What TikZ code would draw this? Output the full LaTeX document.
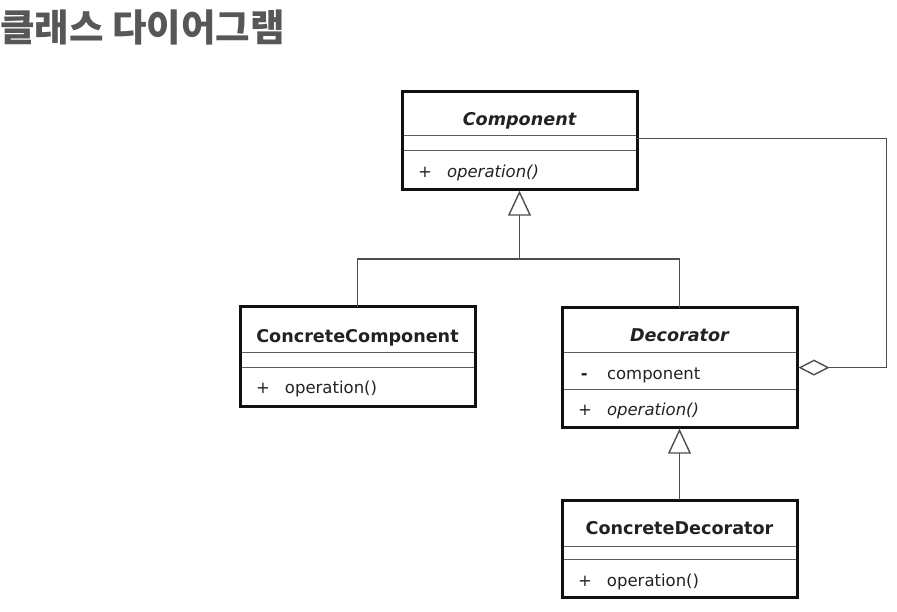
\documentclass[tikz,border=0pt]{standalone}
\usepackage{fontspec}
\usepackage{xcolor}
\usepackage{tikz}
\usetikzlibrary{positioning,arrows.meta,shapes.multipart}
\newfontfamily\umlfont{DejaVu Sans}
\newfontfamily\krfont{Noto Sans CJK KR}
\definecolor{umlEdge}{HTML}{111111}
\definecolor{umlRule}{HTML}{5C5C5C}
\definecolor{umlInk}{HTML}{222222}
\definecolor{umlLink}{HTML}{4E4E4E}
\definecolor{umlTitle}{HTML}{575757}
\tikzset{
  umlclass/.style={rectangle split,rectangle split parts=3,draw=umlRule,line width=1.2pt,
    inner sep=0pt,outer sep=0pt,text=umlInk,font=\umlfont\fontsize{16.5pt}{20pt}\selectfont},
  umlframe/.style={draw=umlEdge,line width=3pt},
  umllink/.style={draw=umlLink,line width=1.4pt},
  umlinherit/.style={umllink,-{Triangle[open,length=25pt,width=23pt]}},
  umlaggregate/.style={umllink,{Diamond[open,length=31pt,width=16pt]}-}
}
% class compartments: total height, depth, text
\newcommand{\clsname}[3]{\makebox[235pt]{\rule[-#2]{0pt}{#1}\fontsize{17.6pt}{20pt}\selectfont\bfseries #3}}
\newcommand{\clsgap}[1]{\makebox[235pt]{\rule{0pt}{#1}}}
\newcommand{\clsrow}[4]{\makebox[235pt][l]{\rule[-#2]{0pt}{#1}\hspace{16pt}\makebox[29pt][l]{#3}#4}}

\begin{document}
\begin{tikzpicture}[x=1pt,y=1pt]
    \useasboundingbox (0,0) rectangle (897,-612);
    \node[font=\krfont\bfseries\fontsize{37.5pt}{42pt}\selectfont,text=umlTitle,anchor=base west,inner sep=0pt]
      (title) at (0,-42) {클래스 다이어그램};
    \node[umlclass,anchor=north west] (component) at (402,-92) {
      \clsname{42pt}{9pt}{\itshape Component}
      \nodepart{two}\clsgap{13.8pt}
      \nodepart{three}\clsrow{37.8pt}{11pt}{+}{\itshape operation()}};
    \node[umlclass,anchor=north west] (concrete) at (240,-307) {
      \clsname{44pt}{9pt}{ConcreteComponent}
      \nodepart{two}\clsgap{13.8pt}
      \nodepart{three}\clsrow{37.8pt}{12pt}{+}{operation()}};
    \node[umlclass,anchor=north west] (decorator) at (562,-308) {
      \clsname{43pt}{10pt}{\itshape Decorator}
      \nodepart{two}\clsrow{35.8pt}{9pt}{\,\textbf{-}}{component}
      \nodepart{three}\clsrow{36.8pt}{11pt}{+}{\itshape operation()}};
    \node[umlclass,below=73pt of decorator] (concdec) {
      \clsname{45pt}{11pt}{ConcreteDecorator}
      \nodepart{two}\clsgap{11.8pt}
      \nodepart{three}\clsrow{36.8pt}{10pt}{+}{operation()}};
    \draw[umlframe] (component.north west) rectangle (component.south east);
    \draw[umlframe] (concrete.north west) rectangle (concrete.south east);
    \draw[umlframe] (decorator.north west) rectangle (decorator.south east);
    \draw[umlframe] (concdec.north west) rectangle (concdec.south east);
    \coordinate (junction) at ([yshift=-70pt]component.south);
    \draw[umlinherit] (concrete.north) |- (junction) -- ([yshift=-1.5pt]component.south);
    \draw[umllink] (decorator.north) |- (junction);
    \draw[umlinherit] (concdec.north) -- ([yshift=-1.5pt]decorator.south);
    \draw[umlaggregate] ([xshift=1.5pt]decorator.east) -- ++(88pt,0) |- ([yshift=2pt]component.east);
  \end{tikzpicture}
\end{document}
